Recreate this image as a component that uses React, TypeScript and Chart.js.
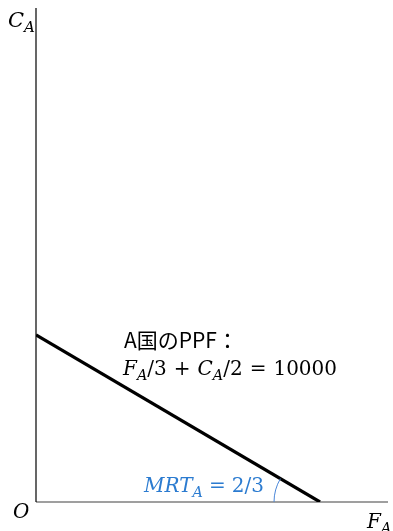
import React, { useEffect, useRef } from "react";
import { Chart, registerables } from "chart.js";

Chart.register(...registerables);

// Production possibility frontier of country A: F/3 + C/2 = 10000
const ppfF = [0, 30000];
const ppfC = [20000, 0];
const xMax = 37180;
const yMax = 59160;
const slopeLabel = "MRT";
const slopeValue = "2/3";
const titleLine = "A国のPPF：";
const constValue = "10000";

type Run = { t: string; it?: boolean; sub?: boolean; gap?: number };

const SERIF = "'DejaVu Serif', 'Liberation Serif', serif";

function drawRuns(ctx: CanvasRenderingContext2D, x: number, y: number, runs: Run[], size: number, color: string) {
  ctx.save();
  ctx.fillStyle = color;
  ctx.textBaseline = "alphabetic";
  ctx.textAlign = "left";
  let cx = x;
  for (const r of runs) {
    if (r.gap) { cx += r.gap; continue; }
    const s = r.sub ? size * 0.72 : size;
    ctx.font = `${r.it ? "italic " : ""}${s}px ${SERIF}`;
    ctx.fillText(r.t, cx, r.sub ? y + size * 0.24 : y);
    cx += ctx.measureText(r.t).width;
  }
  ctx.restore();
}

const annotations = {
  id: "ppfAnnotations",
  beforeDatasetsDraw(chart: any) {
    const ctx: CanvasRenderingContext2D = chart.ctx;
    const xs = chart.scales.x;
    const ys = chart.scales.y;
    const x0 = xs.getPixelForValue(0);
    const y0 = ys.getPixelForValue(0);
    const xEnd = xs.getPixelForValue(xMax);
    const yTop = ys.getPixelForValue(yMax);
    ctx.save();
    // horizontal axis
    ctx.strokeStyle = "#7f7f7f";
    ctx.lineWidth = 1.5;
    ctx.beginPath();
    ctx.moveTo(x0, y0);
    ctx.lineTo(xEnd, y0);
    ctx.stroke();
    // vertical axis
    ctx.strokeStyle = "#000";
    ctx.lineWidth = 1.2;
    ctx.beginPath();
    ctx.moveTo(x0, y0);
    ctx.lineTo(x0, yTop);
    ctx.stroke();
    ctx.restore();
  },
  afterDatasetsDraw(chart: any) {
    const ctx: CanvasRenderingContext2D = chart.ctx;
    const xs = chart.scales.x;
    const ys = chart.scales.y;
    const x0 = xs.getPixelForValue(0);
    const y0 = ys.getPixelForValue(0);
    const xEnd = xs.getPixelForValue(xMax);
    const yTop = ys.getPixelForValue(yMax);

    // angle arc at the F-intercept, between the axis and the frontier
    const px = xs.getPixelForValue(ppfF[1]);
    const py = ys.getPixelForValue(ppfC[1]);
    const qx = xs.getPixelForValue(ppfF[0]);
    const qy = ys.getPixelForValue(ppfC[0]);
    let ang = Math.atan2(qy - py, qx - px);
    if (ang < 0) ang += Math.PI * 2;
    ctx.save();
    ctx.strokeStyle = "#4a86d8";
    ctx.lineWidth = 1;
    ctx.beginPath();
    ctx.arc(px, py, 46, Math.PI, ang, false);
    ctx.stroke();
    ctx.restore();

    // axis labels
    drawRuns(ctx, x0 - 28, yTop + 19, [{ t: "C", it: true }, { t: "A", it: true, sub: true }], 21, "#000");
    drawRuns(ctx, x0 - 23, y0 + 16, [{ t: "O", it: true }], 20, "#000");
    drawRuns(ctx, xEnd - 21, y0 + 26, [{ t: "F", it: true }, { t: "A", it: true, sub: true }], 20, "#000");

    // PPF caption
    ctx.save();
    ctx.fillStyle = "#000";
    ctx.font = "21px 'Noto Sans CJK JP', 'Noto Sans', sans-serif";
    ctx.textBaseline = "alphabetic";
    ctx.fillText(titleLine, 124, 348);
    ctx.restore();
    drawRuns(
      ctx,
      123,
      375,
      [
        { t: "F", it: true }, { t: "A", it: true, sub: true }, { t: "/3" },
        { gap: 7 }, { t: "+" }, { gap: 7 },
        { t: "C", it: true }, { t: "A", it: true, sub: true }, { t: "/2" },
        { gap: 7 }, { t: "=" }, { gap: 7 },
        { t: constValue },
      ],
      20,
      "#000"
    );

    // slope label
    drawRuns(
      ctx,
      144,
      492,
      [{ t: slopeLabel, it: true }, { t: "A", it: true, sub: true }, { gap: 6 }, { t: "=" }, { gap: 6 }, { t: slopeValue }],
      20,
      "#2b7bd0"
    );
  },
};

export default function App() {
  const ref = useRef<HTMLCanvasElement | null>(null);
  useEffect(() => {
    if (!ref.current) return;
    const chart = new Chart(ref.current, {
      type: "line",
      data: {
        datasets: [
          {
            data: ppfF.map((f, i) => ({ x: f, y: ppfC[i] })),
            borderColor: "#000",
            borderWidth: 3.2,
            pointRadius: 0,
            fill: false,
            tension: 0,
          },
        ],
      },
      options: {
        animation: false,
        responsive: false,
        layout: { padding: { left: 36, right: 5, top: 8, bottom: 29 } },
        plugins: { legend: { display: false }, tooltip: { enabled: false }, title: { display: false } },
        scales: {
          x: { type: "linear", display: false, min: 0, max: xMax },
          y: { type: "linear", display: false, min: 0, max: yMax },
        },
      },
      plugins: [annotations],
    });
    return () => chart.destroy();
  }, []);
  return (
    <div style={{ position: "absolute", left: 0, top: 0, width: 393, height: 531, background: "#fff" }}>
      <canvas ref={ref} width={393} height={531} style={{ display: "block" }} />
    </div>
  );
}
